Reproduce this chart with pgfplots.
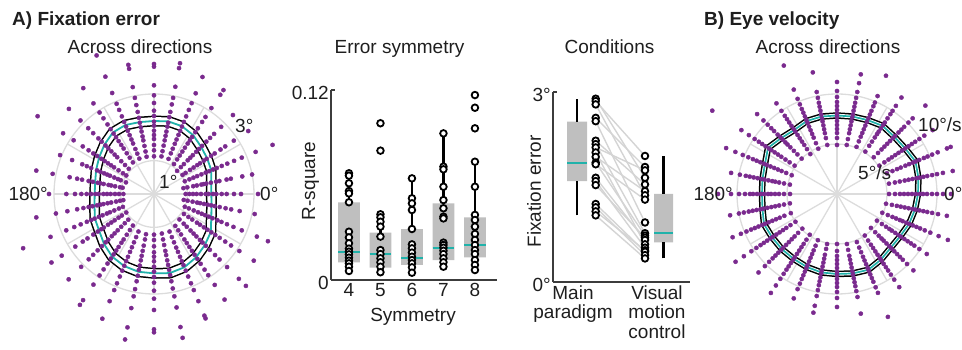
\documentclass[border=0pt]{standalone}
\usepackage{fontspec}
\setmainfont{Liberation Sans}
\usepackage{pgfplots}
\usepackage{pgfplotstable}
\pgfplotsset{compat=1.18}
\usepgfplotslibrary{polar}
\definecolor{dotpurple}{RGB}{122,42,142}
\definecolor{mycyan}{RGB}{32,178,170}
\definecolor{boxgray}{RGB}{191,191,191}
\definecolor{gridgray}{RGB}{220,220,220}
\definecolor{axgray}{RGB}{60,60,60}
\definecolor{pairgray}{RGB}{212,212,212}
\definecolor{txt}{RGB}{30,30,30}
\newcommand{\fs}{\fontsize{19}{22}\selectfont}

\pgfplotsset{
 pdot/.style={only marks, mark=*, mark size=2.1pt, color=dotpurple, data cs=polar},
 circ/.style={only marks, mark=*, mark size=3.3pt, mark options={fill=white, draw=black, line width=1.8pt}},
 boxax/.style={scale only axis, clip=false, axis lines*=left,
   axis line style={axgray, line width=1.7pt}, tick align=inside, major tick length=4pt,
   xtick style={draw=none}, ytick style={axgray, line width=1.7pt},
   tick label style={font=\fs, text=txt}, label style={font=\fs, text=txt},
   yticklabel style={inner xsep=2pt, yshift=-3pt}},
 whisk/.style={black, line width=2.2pt},
 med/.style={mycyan, line width=2.2pt},
}

% Fixation error per direction (deg), one column per subject
\pgfplotstableread{
a s1 s2 s3 s4 s5 s6 s7 s8 s9 s10 s11 s12 s13 s14
0      0.95 1.06 1.17 1.28 1.41 1.55 1.64 1.77 1.87 2.03 2.18 2.40 2.61 3.12
11.25  0.90 1.02 1.20 1.31 1.45 1.52 1.60 1.74 1.90 2.00 2.22 2.35 2.70 3.00
22.5   1.00 1.15 1.28 1.40 1.54 1.68 1.79 1.92 2.04 2.20 2.38 2.60 2.85 3.30
33.75  1.03 1.14 1.30 1.43 1.56 1.66 1.80 1.90 2.06 2.19 2.40 2.57 2.88 3.40
45     0.98 1.14 1.27 1.43 1.54 1.65 1.79 1.91 2.04 2.22 2.38 2.55 2.85 3.35
56.25  1.08 1.25 1.39 1.53 1.67 1.82 1.94 2.06 2.23 2.37 2.60 2.78 3.10 3.58
67.5   1.14 1.32 1.47 1.63 1.77 1.92 2.05 2.19 2.34 2.52 2.73 2.95 3.27 3.80
78.75  1.15 1.31 1.48 1.64 1.78 1.91 2.06 2.18 2.35 2.51 2.74 2.94 3.28 3.85
90     1.13 1.31 1.47 1.65 1.77 1.90 2.05 2.17 2.34 2.50 2.73 2.96 3.26 3.82
101.25 1.14 1.30 1.47 1.64 1.76 1.91 2.04 2.18 2.33 2.51 2.72 2.94 3.27 3.83
112.5  1.15 1.31 1.46 1.64 1.77 1.91 2.05 2.19 2.34 2.52 2.73 2.93 3.28 3.81
123.75 1.14 1.31 1.47 1.64 1.77 1.91 2.05 2.18 2.34 2.51 2.73 2.94 3.27 3.82
135    1.07 1.23 1.39 1.56 1.67 1.81 1.94 2.06 2.22 2.36 2.58 2.79 3.12 3.61
146.25 1.00 1.12 1.28 1.44 1.55 1.66 1.78 1.90 2.05 2.19 2.36 2.57 2.90 3.28
157.5  0.91 1.08 1.17 1.29 1.43 1.52 1.62 1.74 1.85 2.04 2.18 2.33 2.66 3.05
168.75 0.96 1.04 1.19 1.31 1.39 1.54 1.64 1.72 1.87 2.00 2.20 2.35 2.58 3.10
180    0.92 1.05 1.17 1.30 1.41 1.52 1.66 1.76 1.89 2.02 2.18 2.37 2.63 3.15
191.25 0.94 1.04 1.16 1.31 1.42 1.55 1.64 1.74 1.88 2.00 2.16 2.35 2.65 3.00
202.5  1.01 1.14 1.29 1.43 1.53 1.67 1.79 1.93 2.04 2.18 2.38 2.59 2.85 3.36
213.75 1.00 1.16 1.28 1.42 1.54 1.66 1.81 1.90 2.03 2.19 2.40 2.57 2.84 3.33
225    1.09 1.24 1.39 1.54 1.67 1.79 1.94 2.05 2.21 2.39 2.58 2.77 3.09 3.62
236.25 1.14 1.30 1.47 1.64 1.76 1.91 2.04 2.18 2.33 2.51 2.72 2.94 3.27 3.83
247.5  1.22 1.40 1.57 1.73 1.88 2.04 2.18 2.33 2.49 2.68 2.90 3.12 3.48 4.05
258.75 1.23 1.39 1.58 1.74 1.89 2.03 2.19 2.32 2.50 2.67 2.91 3.13 3.49 4.08
270    1.22 1.38 1.57 1.75 1.88 2.02 2.18 2.33 2.49 2.66 2.90 3.14 3.48 4.06
281.25 1.21 1.39 1.56 1.74 1.87 2.03 2.17 2.32 2.48 2.67 2.89 3.13 3.47 4.07
292.5  1.22 1.40 1.57 1.74 1.88 2.04 2.18 2.31 2.49 2.68 2.90 3.12 3.48 4.04
303.75 1.15 1.31 1.46 1.64 1.77 1.91 2.05 2.19 2.34 2.52 2.73 2.93 3.28 3.81
315    1.08 1.26 1.39 1.55 1.68 1.80 1.95 2.06 2.20 2.37 2.59 2.78 3.10 3.60
326.25 1.08 1.24 1.38 1.55 1.66 1.80 1.93 2.07 2.21 2.37 2.57 2.78 3.08 3.60
337.5  1.00 1.13 1.29 1.43 1.55 1.66 1.78 1.90 2.06 2.19 2.37 2.58 2.85 3.34
348.75 0.91 1.03 1.18 1.32 1.41 1.53 1.64 1.75 1.86 2.01 2.19 2.36 2.62 3.08
}\polA

% Eye velocity per direction (deg/s), one column per subject
\pgfplotstableread{
a s1 s2 s3 s4 s5 s6 s7 s8 s9 s10 s11 s12 s13 s14
0      5.2 5.8 6.3 6.7 7.1 7.5 7.9 8.3 8.6 9.0 9.5 10.0 10.6 11.4
11.25  5.3 5.9 6.4 6.9 7.3 7.7 8.1 8.4 8.8 9.2 9.7 10.2 10.8 11.8
22.5   5.4 6.0 6.5 6.9 7.4 7.8 8.2 8.5 8.9 9.4 9.8 10.3 10.9 11.9
33.75  5.1 5.7 6.2 6.6 7.0 7.4 7.8 8.2 8.6 9.0 9.4 9.9 10.5 11.5
45     5.2 5.8 6.3 6.7 7.1 7.5 7.9 8.2 8.7 9.1 9.5 10.1 10.7 12.5
56.25  5.1 5.8 6.3 6.8 7.2 7.5 7.9 8.3 8.6 9.1 9.6 10.0 10.6 11.6
67.5   5.1 5.7 6.2 6.6 7.0 7.4 7.8 8.2 8.6 9.0 9.5 9.9 10.6 12.8
78.75  5.0 5.6 6.2 6.6 7.0 7.4 7.8 8.1 8.5 8.9 9.3 9.8 10.4 11.3
90     4.9 5.6 6.1 6.5 6.9 7.3 7.7 8.0 8.4 8.8 9.2 9.7 10.3 11.2
101.25 5.0 5.7 6.2 6.6 7.0 7.4 7.7 8.1 8.5 8.9 9.3 9.8 10.4 12.4
112.5  4.9 5.5 6.1 6.5 6.9 7.3 7.7 8.0 8.4 8.8 9.2 9.7 10.3 11.3
123.75 4.8 5.4 5.9 6.3 6.7 7.1 7.5 7.8 8.2 8.6 9.0 9.4 10.0 10.9
135    5.0 5.6 6.1 6.6 7.0 7.3 7.7 8.0 8.4 8.9 9.3 9.8 10.4 11.3
146.25 5.1 5.7 6.2 6.7 7.1 7.5 7.9 8.2 8.6 9.0 9.4 9.9 10.6 11.5
157.5  4.9 5.5 6.0 6.4 6.8 7.2 7.6 7.9 8.3 8.7 9.1 9.6 10.2 11.0
168.75 4.8 5.4 5.9 6.3 6.6 7.0 7.4 7.7 8.1 8.5 8.9 9.3 9.9 10.8
180    4.7 5.3 5.8 6.2 6.6 6.9 7.3 7.6 8.0 8.4 8.7 9.2 9.8 10.6
191.25 4.8 5.4 5.9 6.3 6.7 7.1 7.5 7.8 8.2 8.6 9.0 9.5 10.0 10.9
202.5  5.0 5.7 6.2 6.6 7.0 7.4 7.8 8.1 8.5 8.9 9.3 9.8 10.4 11.3
213.75 5.0 5.6 6.1 6.5 6.9 7.3 7.7 8.0 8.4 8.8 9.2 9.7 10.3 11.2
225    4.9 5.5 6.0 6.4 6.8 7.2 7.6 7.9 8.3 8.7 9.1 9.6 10.2 11.1
236.25 4.9 5.5 6.0 6.4 6.8 7.2 7.6 7.9 8.3 8.7 9.1 9.6 10.2 11.0
247.5  5.0 5.6 6.1 6.5 6.9 7.3 7.7 8.0 8.4 8.8 9.2 9.7 10.3 11.3
258.75 5.1 5.6 6.2 6.6 7.0 7.4 7.8 8.1 8.5 8.9 9.3 9.8 10.4 11.4
270    5.0 5.7 6.2 6.6 7.0 7.4 7.8 8.1 8.5 8.9 9.3 9.8 10.4 11.3
281.25 5.1 5.7 6.3 6.7 7.1 7.5 7.9 8.2 8.6 9.0 9.4 9.9 10.5 12.2
292.5  5.2 5.8 6.3 6.8 7.2 7.6 8.0 8.3 8.7 9.1 9.5 10.1 10.7 13.3
303.75 5.0 5.6 6.1 6.5 6.9 7.3 7.7 8.0 8.4 8.8 9.2 9.7 10.3 11.2
315    4.8 5.4 5.9 6.3 6.6 7.0 7.4 7.7 8.1 8.5 8.9 9.3 9.9 10.8
326.25 4.8 5.4 5.9 6.3 6.6 7.0 7.4 7.7 8.1 8.5 8.9 9.3 9.9 10.8
337.5  4.9 5.5 6.0 6.4 6.8 7.1 7.5 7.8 8.2 8.6 9.0 9.5 10.1 11.0
348.75 5.0 5.6 6.1 6.5 6.9 7.3 7.7 8.0 8.4 8.8 9.2 9.7 10.3 11.2
}\polB

\begin{document}
\begin{tikzpicture}[font=\fs, text=txt]
\useasboundingbox (0,0) rectangle (962pt,350pt);

% ---------- polar grids ----------
\draw[gridgray, line width=1.3pt] (154pt,156pt) circle[radius=100pt];
\draw[gridgray, line width=1.3pt] (154pt,156pt) circle[radius=33.333pt];
\foreach \ang in {0,30,...,330} \draw[gridgray, line width=1.3pt] (154pt,156pt) -- ++(\ang:100pt);
\draw[gridgray, line width=1.3pt] (837pt,156pt) circle[radius=100pt];
\draw[gridgray, line width=1.3pt] (837pt,156pt) circle[radius=50pt];
\foreach \ang in {0,30,...,330} \draw[gridgray, line width=1.3pt] (837pt,156pt) -- ++(\ang:100pt);

% ---------- A: polar fixation error ----------
\begin{axis}[at={(154pt,156pt)}, anchor=center, x=33.333pt, y=33.333pt,
  xmin=-3, xmax=3, ymin=-3, ymax=3, hide axis, clip=false]
\addplot[pdot] table[x=a,y=s1]{\polA};
\addplot[pdot] table[x=a,y=s2]{\polA};
\addplot[pdot] table[x=a,y=s3]{\polA};
\addplot[pdot] table[x=a,y=s4]{\polA};
\addplot[pdot] table[x=a,y=s5]{\polA};
\addplot[pdot] table[x=a,y=s6]{\polA};
\addplot[pdot] table[x=a,y=s7]{\polA};
\addplot[pdot] table[x=a,y=s8]{\polA};
\addplot[pdot] table[x=a,y=s9]{\polA};
\addplot[pdot] table[x=a,y=s10]{\polA};
\addplot[pdot] table[x=a,y=s11]{\polA};
\addplot[pdot] table[x=a,y=s12]{\polA};
\addplot[pdot] table[x=a,y=s13]{\polA};
\addplot[pdot] table[x=a,y=s14]{\polA};
\addplot[pdot] coordinates {(112.5,4.5) (101.25,3.95) (90,3.9) (146.25,4.2) (191.25,3.6) (202.5,4.25) (56.25,3.75) (22.5,3.85) (258.75,4.45) (270,4.15) (281.25,4.4) (292.5,3.95) (236.25,4.0) (315,3.9) (168.75,3.6) (337.5,3.7) (213.75,3.7) (78.75,4.0)};
\foreach \w/\c in {10.9pt/black, 7.9pt/white, 1.8pt/mycyan}{
\edef\tmp{\noexpand\addplot[\c, line width=\w, line join=round, line cap=round, data cs=polar]}
\tmp coordinates {(0,1.72) (11.25,1.75) (22.5,1.86) (33.75,1.92) (45,2.00) (56.25,2.12) (67.5,2.20) (78.75,2.22) (90,2.19) (101.25,2.20) (112.5,2.24) (123.75,2.22) (135,2.10) (146.25,1.98) (157.5,1.88) (168.75,1.80) (180,1.78) (191.25,1.82) (202.5,1.92) (213.75,1.98) (225,2.12) (236.25,2.26) (247.5,2.34) (258.75,2.38) (270,2.38) (281.25,2.42) (292.5,2.38) (303.75,2.28) (315,2.16) (326.25,2.05) (337.5,1.86) (348.75,1.76) (360,1.72)};
}
\end{axis}

% ---------- B: polar eye velocity ----------
\begin{axis}[at={(837pt,156pt)}, anchor=center, x=10pt, y=10pt,
  xmin=-10, xmax=10, ymin=-10, ymax=10, hide axis, clip=false]
\addplot[pdot] table[x=a,y=s1]{\polB};
\addplot[pdot] table[x=a,y=s2]{\polB};
\addplot[pdot] table[x=a,y=s3]{\polB};
\addplot[pdot] table[x=a,y=s4]{\polB};
\addplot[pdot] table[x=a,y=s5]{\polB};
\addplot[pdot] table[x=a,y=s6]{\polB};
\addplot[pdot] table[x=a,y=s7]{\polB};
\addplot[pdot] table[x=a,y=s8]{\polB};
\addplot[pdot] table[x=a,y=s9]{\polB};
\addplot[pdot] table[x=a,y=s10]{\polB};
\addplot[pdot] table[x=a,y=s11]{\polB};
\addplot[pdot] table[x=a,y=s12]{\polB};
\addplot[pdot] table[x=a,y=s13]{\polB};
\addplot[pdot] table[x=a,y=s14]{\polB};
\addplot[pdot] coordinates {(146.25,15.0) (112.5,13.9) (213.75,12.2) (236.25,11.9) (22.5,12.3) (180,11.9) (337.5,12.0) (258.75,12.1) (157.5,12.0) (78.75,12.2)};
\foreach \w/\c in {6.5pt/black, 3.5pt/white, 1.7pt/mycyan}{
\edef\tmp{\noexpand\addplot[\c, line width=\w, line join=round, line cap=round, data cs=polar]}
\tmp coordinates {(0,8.1) (11.25,8.3) (22.5,8.5) (33.75,8.2) (45,8.1) (56.25,8.2) (67.5,8.0) (78.75,7.9) (90,7.85) (101.25,7.9) (112.5,7.9) (123.75,7.7) (135,7.9) (146.25,8.3) (157.5,7.8) (168.75,7.6) (180,7.5) (191.25,7.6) (202.5,7.9) (213.75,7.8) (225,7.8) (236.25,7.8) (247.5,7.9) (258.75,8.0) (270,8.0) (281.25,8.1) (292.5,8.2) (303.75,7.9) (315,7.6) (326.25,7.6) (337.5,7.8) (348.75,7.95) (360,8.1)};
}
\end{axis}

% ---------- Error symmetry ----------
\begin{axis}[boxax, at={(331pt,70pt)}, anchor=south west, width=166pt, height=190pt,
  xmin=3.43, xmax=8.7, ymin=0, ymax=0.12,
  xtick={4,5,6,7,8}, xticklabels={4,5,6,7,8},
  ytick={0,0.12}, yticklabels={0,0.12},
  xlabel={Symmetry}, ylabel={R-square},
  xlabel style={at={(axis description cs:0.494,-0.219)}, anchor=base},
  ylabel style={at={(axis description cs:-0.096,0.521)}, anchor=base}]
\addplot[fill=boxgray, draw=none] coordinates {(3.655,0.0112)(4.345,0.0112)(4.345,0.0491)(3.655,0.0491)(3.655,0.0112)};
\addplot[fill=boxgray, draw=none] coordinates {(4.655,0.0078)(5.345,0.0078)(5.345,0.0299)(4.655,0.0299)(4.655,0.0078)};
\addplot[fill=boxgray, draw=none] coordinates {(5.655,0.0095)(6.345,0.0095)(6.345,0.0322)(5.655,0.0322)(5.655,0.0095)};
\addplot[fill=boxgray, draw=none] coordinates {(6.655,0.0126)(7.345,0.0126)(7.345,0.0484)(6.655,0.0484)(6.655,0.0126)};
\addplot[fill=boxgray, draw=none] coordinates {(7.655,0.0143)(8.345,0.0143)(8.345,0.0396)(7.655,0.0396)(7.655,0.0143)};
\addplot[whisk] coordinates {(4,0.0491)(4,0.0674)};
\addplot[whisk] coordinates {(4,0.0057)(4,0.0112)};
\addplot[whisk] coordinates {(5,0.0299)(5,0.0415)};
\addplot[whisk] coordinates {(5,0.0049)(5,0.0078)};
\addplot[whisk] coordinates {(6,0.0322)(6,0.0642)};
\addplot[whisk] coordinates {(6,0.0046)(6,0.0095)};
\addplot[whisk] coordinates {(7,0.0484)(7,0.0926)};
\addplot[whisk] coordinates {(7,0.0084)(7,0.0126)};
\addplot[whisk] coordinates {(8,0.0396)(8,0.0747)};
\addplot[whisk] coordinates {(8,0.0063)(8,0.0143)};
\addplot[med] coordinates {(3.655,0.0179)(4.345,0.0179)};
\addplot[med] coordinates {(4.655,0.0163)(5.345,0.0163)};
\addplot[med] coordinates {(5.655,0.0137)(6.345,0.0137)};
\addplot[med] coordinates {(6.655,0.0204)(7.345,0.0204)};
\addplot[med] coordinates {(7.655,0.0219)(8.345,0.0219)};
\addplot[circ] coordinates {(4,0.0674)(4,0.0659)(4,0.0611)(4,0.0562)(4,0.0547)(4,0.0491)(4,0.0305)(4,0.0269)(4,0.0232)(4,0.0198)(4,0.0179)(4,0.0162)(4,0.0141)(4,0.0122)(4,0.0105)(4,0.0084)(4,0.0057)};
\addplot[circ] coordinates {(5,0.0990)(5,0.0817)(5,0.0415)(5,0.0396)(5,0.0368)(5,0.0337)(5,0.0274)(5,0.0189)(5,0.0164)(5,0.0137)(5,0.0112)(5,0.0084)(5,0.0049)};
\addplot[circ] coordinates {(6,0.0642)(6,0.0516)(6,0.0484)(6,0.0442)(6,0.0322)(6,0.0225)(6,0.0200)(6,0.0173)(6,0.0147)(6,0.0126)(6,0.0105)(6,0.0080)(6,0.0046)};
\addplot[circ] coordinates {(7,0.0926)(7,0.0716)(7,0.0699)(7,0.0589)(7,0.0505)(7,0.0453)(7,0.0400)(7,0.0389)(7,0.0236)(7,0.0221)(7,0.0204)(7,0.0185)(7,0.0164)(7,0.0137)(7,0.0112)(7,0.0084)};
\addplot[circ] coordinates {(8,0.1168)(8,0.1088)(8,0.0958)(8,0.0747)(8,0.0589)(8,0.0411)(8,0.0379)(8,0.0337)(8,0.0291)(8,0.0253)(8,0.0221)(8,0.0189)(8,0.0164)(8,0.0126)(8,0.0095)(8,0.0063)};
\end{axis}

% ---------- Conditions ----------
\begin{axis}[boxax, at={(553pt,68pt)}, anchor=south west, width=137pt, height=190pt,
  xmin=0, xmax=137, ymin=0, ymax=3,
  xtick={20,104}, xticklabels={{Main\\paradigm},{Visual\\motion\\control}},
  xticklabel style={align=center, font=\fontsize{19}{19.5}\selectfont},
  ytick={0,3}, yticklabels={0°,3°},
  ylabel={Fixation error},
  ylabel style={at={(axis description cs:-0.089,0.476)}, anchor=base}]
\addplot[pairgray, line width=1.4pt] coordinates {(42.7,2.894)(92,1.646)};
\addplot[pairgray, line width=1.4pt] coordinates {(42.7,2.857)(92,1.990)};
\addplot[pairgray, line width=1.4pt] coordinates {(42.7,2.804)(92,1.370)};
\addplot[pairgray, line width=1.4pt] coordinates {(42.7,2.592)(92,1.816)};
\addplot[pairgray, line width=1.4pt] coordinates {(42.7,2.539)(92,0.940)};
\addplot[pairgray, line width=1.4pt] coordinates {(42.7,2.231)(92,1.540)};
\addplot[pairgray, line width=1.4pt] coordinates {(42.7,2.177)(92,0.770)};
\addplot[pairgray, line width=1.4pt] coordinates {(42.7,2.124)(92,1.763)};
\addplot[pairgray, line width=1.4pt] coordinates {(42.7,2.045)(92,0.595)};
\addplot[pairgray, line width=1.4pt] coordinates {(42.7,1.976)(92,1.434)};
\addplot[pairgray, line width=1.4pt] coordinates {(42.7,1.885)(92,0.733)};
\addplot[pairgray, line width=1.4pt] coordinates {(42.7,1.859)(92,1.301)};
\addplot[pairgray, line width=1.4pt] coordinates {(42.7,1.646)(92,0.664)};
\addplot[pairgray, line width=1.4pt] coordinates {(42.7,1.593)(92,0.542)};
\addplot[pairgray, line width=1.4pt] coordinates {(42.7,1.530)(92,0.700)};
\addplot[pairgray, line width=1.4pt] coordinates {(42.7,1.232)(92,0.478)};
\addplot[pairgray, line width=1.4pt] coordinates {(42.7,1.179)(92,0.425)};
\addplot[pairgray, line width=1.4pt] coordinates {(42.7,1.115)(92,0.500)};
\addplot[pairgray, line width=1.4pt] coordinates {(42.7,1.052)(92,0.372)};
\addplot[fill=boxgray, draw=none] coordinates {(14,1.593)(34,1.593)(34,2.533)(14,2.533)(14,1.593)};
\addplot[fill=boxgray, draw=none] coordinates {(101,0.627)(120,0.627)(120,1.391)(101,1.391)(101,0.627)};
\addplot[whisk] coordinates {(24,1.052)(24,1.593)};
\addplot[whisk] coordinates {(24,2.533)(24,2.894)};
\addplot[whisk] coordinates {(110.5,0.372)(110.5,0.627)};
\addplot[whisk] coordinates {(110.5,1.391)(110.5,1.990)};
\addplot[med] coordinates {(14,1.88)(34,1.88)};
\addplot[med] coordinates {(101,0.77)(120,0.77)};
\addplot[circ] coordinates {(42.7,2.894)(42.7,2.857)(42.7,2.804)(42.7,2.592)(42.7,2.539)(42.7,2.231)(42.7,2.177)(42.7,2.124)(42.7,2.045)(42.7,1.976)(42.7,1.885)(42.7,1.859)(42.7,1.646)(42.7,1.593)(42.7,1.530)(42.7,1.232)(42.7,1.179)(42.7,1.115)(42.7,1.052)};
\addplot[circ] coordinates {(92,1.990)(92,1.816)(92,1.763)(92,1.646)(92,1.540)(92,1.434)(92,1.370)(92,1.301)(92,0.940)(92,0.770)(92,0.733)(92,0.700)(92,0.664)(92,0.595)(92,0.542)(92,0.500)(92,0.478)(92,0.425)(92,0.372)};
\end{axis}

% ---------- titles and polar labels ----------
\node[anchor=base west, inner sep=0, font=\fs\bfseries] at (12pt,324pt) {A) Fixation error};
\node[anchor=base west, inner sep=0, font=\fs\bfseries] at (704pt,324pt) {B) Eye velocity};
\node[anchor=base, inner sep=0] at (140pt,296pt) {Across directions};
\node[anchor=base, inner sep=0] at (828pt,296pt) {Across directions};
\node[anchor=base, inner sep=0] at (399.5pt,296pt) {Error symmetry};
\node[anchor=base, inner sep=0] at (609.5pt,296pt) {Conditions};
\node[anchor=base east, inner sep=0] at (48pt,149.2pt) {180°};
\node[anchor=base west, inner sep=0] at (260pt,149.2pt) {0°};
\node[anchor=base west, inner sep=0] at (235pt,217.2pt) {3°};
\node[anchor=base west, inner sep=0] at (159pt,161.2pt) {1°};
\node[anchor=base east, inner sep=0] at (733pt,149.2pt) {180°};
\node[anchor=base west, inner sep=0] at (944pt,149.2pt) {0°};
\node[anchor=base west, inner sep=0] at (918pt,218pt) {10°/s};
\node[anchor=base west, inner sep=0] at (858pt,170pt) {5°/s};
\end{tikzpicture}
\end{document}
